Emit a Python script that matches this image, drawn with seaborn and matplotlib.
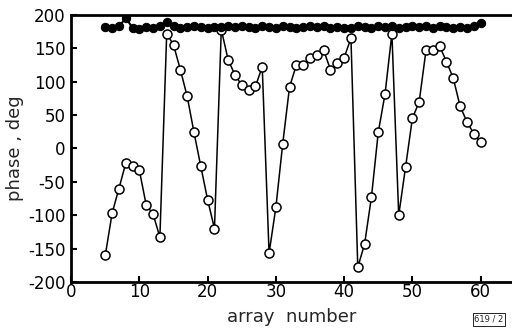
import numpy as np
import pandas as pd
import matplotlib
matplotlib.use("Agg")
import matplotlib.pyplot as plt
import seaborn as sns

# array numbers 5..60
array_no = list(range(5, 61))

# open circles (measured phase)
phase_open = [-160, -97, -60, -22, -27, -33, -85, -98, -133,
              172, 155, 118, 78, 24, -27, -77, -120,
              178, 133, 110, 95, 88, 93, 122,
              -157, -88, 7, 92, 125, 125, 135, 140, 147, 118, 128, 136, 165,
              -178, -143, -73, 24, 82, 172,
              -100, -28, 45, 70, 147, 147, 153, 130, 105, 63, 40, 22, 9]

# filled circles (corrected phase)
phase_filled = [182, 181, 183, 195, 181, 179, 182, 180, 183, 190,
                183, 181, 182, 184, 182, 181, 182, 182, 183, 182,
                184, 182, 181, 183, 182, 181, 183, 182, 181, 182,
                184, 182, 183, 181, 182, 180, 181, 183, 182, 181,
                184, 182, 183, 181, 182, 183, 182, 183, 181, 183,
                182, 181, 182, 181, 183, 188]

df = pd.DataFrame({"array": array_no, "open": phase_open, "filled": phase_filled})

sns.set_style("ticks")
plt.rcParams['font.family'] = ['DejaVu Sans']
plt.rcParams['axes.unicode_minus'] = False

fig = plt.figure(figsize=(5.12, 3.31), dpi=100)
ax = fig.add_axes([0.139, 0.148, 0.861, 0.807])

sns.lineplot(data=df, x="array", y="open", ax=ax, color="black", lw=1.1,
             marker="o", markersize=6.5, markerfacecolor="white",
             markeredgecolor="black", markeredgewidth=1.1)
sns.lineplot(data=df, x="array", y="filled", ax=ax, color="black", lw=1.5,
             marker="o", markersize=6, markerfacecolor="black",
             markeredgecolor="black")

ax.set_xlim(0, 64.6)
ax.set_ylim(-200, 200)
ax.set_xticks(range(0, 61, 10))
ax.set_yticks(range(-200, 201, 50))
ax.tick_params(direction="in", length=4, width=1.5, labelsize=12,
               colors="black")
ax.tick_params(axis="x", pad=1)
ax.tick_params(axis="y", pad=4)
for s in ["left", "bottom", "top"]:
    ax.spines[s].set_linewidth(2)
    ax.spines[s].set_color("black")
ax.spines["right"].set_visible(False)

ax.set_xlabel("array  number", fontsize=13, labelpad=5)
ax.set_ylabel("phase , deg", fontsize=13, labelpad=3)

fig.text(0.955, 0.035, "619 / 2", fontsize=6, ha="center", va="center",
         bbox=dict(boxstyle="square,pad=0.2", fc="white", ec="black", lw=0.6))

fig.savefig("out.png", dpi=100)
